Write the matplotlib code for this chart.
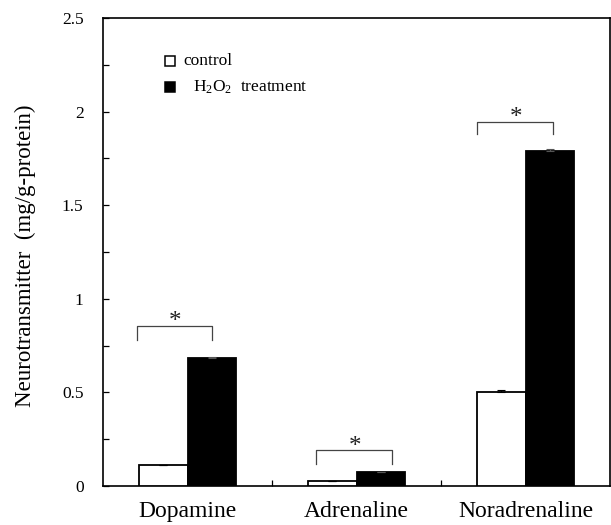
import numpy as np
import matplotlib
matplotlib.use('Agg')
import matplotlib.pyplot as plt
from matplotlib.ticker import MultipleLocator, FixedLocator, FuncFormatter

plt.rcParams['font.family'] = ['Liberation Serif', 'DejaVu Serif']
plt.rcParams['mathtext.fontset'] = 'custom'
plt.rcParams['mathtext.rm'] = 'Liberation Serif'
plt.rcParams['mathtext.it'] = 'Liberation Serif:italic'

# data
categories = ['Dopamine', 'Adrenaline', 'Noradrenaline']
control = [0.11, 0.025, 0.50]
treatment = [0.685, 0.075, 1.79]
control_err = [0.004, 0.002, 0.014]
treatment_err = [0.003, 0.002, 0.009]
# significance brackets: (left x offset, right x offset, top, leg bottom)
brackets = [(-0.30, 0.145, 0.855, 0.78),
            (-0.24, 0.21, 0.19, 0.12),
            (-0.285, 0.16, 1.945, 1.88)]

fig = plt.figure(figsize=(6.11, 5.25), dpi=100)
ax = fig.add_axes([103/611, 1 - 486/525, 507/611, 468/525])

x = np.arange(len(categories))
w = 0.285
ax.bar(x - w/2, control, w, color='white', edgecolor='black', linewidth=1.3,
       yerr=[[0]*3, control_err], capsize=3,
       error_kw=dict(elinewidth=0.8, capthick=0.8, ecolor='black'), zorder=3)
ax.bar(x + w/2, treatment, w, color='black', edgecolor='black', linewidth=1.3,
       yerr=[[0]*3, treatment_err], capsize=3,
       error_kw=dict(elinewidth=0.8, capthick=0.8, ecolor='#555555'), zorder=3)

for xi, (l, r, top, bot) in zip(x, brackets):
    ax.plot([xi + l, xi + l, xi + r, xi + r], [bot, top, top, bot],
            color='#444444', lw=0.9, zorder=4)
    ax.annotate('*', (xi + (l + r)/2, top), xytext=(0.5, -1.8),
                textcoords='offset points', ha='center', va='baseline',
                fontsize=18, color='#222222')

ax.set_xlim(-0.5, 2.5)
ax.set_ylim(0, 2.5)

ax.set_xticks(x)
ax.set_xticklabels(categories, fontsize=17)
ax.xaxis.set_minor_locator(FixedLocator([0.5, 1.5]))
ax.tick_params(axis='x', which='major', length=0, pad=11)
ax.tick_params(axis='x', which='minor', direction='in', length=4.5, width=0.9)

ax.yaxis.set_major_locator(MultipleLocator(0.5))
ax.yaxis.set_minor_locator(MultipleLocator(0.25))
ax.yaxis.set_major_formatter(FuncFormatter(lambda v, p: '%g' % v))
ax.tick_params(axis='y', which='both', direction='in', length=4.2, width=0.9,
               labelsize=12.5, pad=14)

for s in ax.spines.values():
    s.set_linewidth(1.2)

fig.text(25/611, 1 - 256/525, 'Neurotransmitter  (mg/g-protein)', rotation=90,
         ha='center', va='center', fontsize=16.5)

# legend drawn by hand
ax.plot([0.132], [0.908], marker='s', ms=7.5, mfc='white', mec='black', mew=1.1,
        transform=ax.transAxes, clip_on=False)
ax.text(0.158, 0.908, 'control', transform=ax.transAxes, va='center',
        ha='left', fontsize=12.5)
ax.plot([0.132], [0.852], marker='s', ms=7.5, mfc='black', mec='black', mew=1.1,
        transform=ax.transAxes, clip_on=False)
ax.text(0.1775, 0.852, r'H$_2$O$_2$  treatment', transform=ax.transAxes,
        va='center', ha='left', fontsize=12.5)

fig.savefig('out.png', dpi=100)
